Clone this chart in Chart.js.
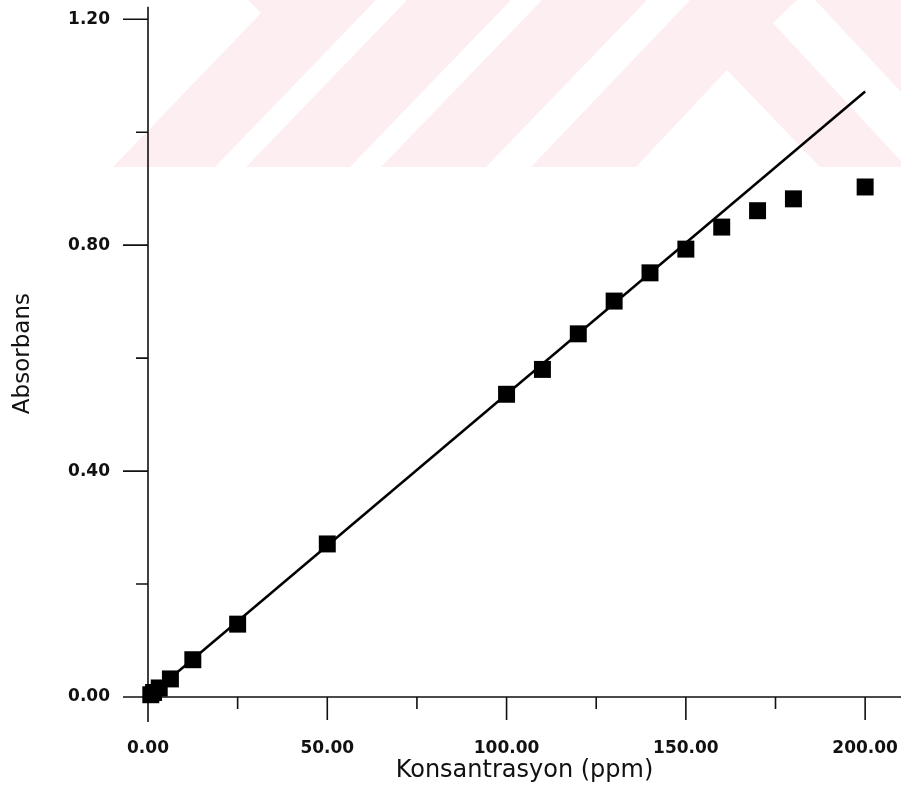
<!DOCTYPE html>
<html>
<head>
<meta charset="utf-8">
<script src="https://cdn.jsdelivr.net/npm/chart.js@4.4.1/dist/chart.umd.min.js"></script>
<style>
  html, body { margin: 0; padding: 0; background: #fff; }
  canvas { display: block; }
</style>
</head>
<body>
<canvas id="calibChart" width="901" height="787"></canvas>
<script>
// measured points (concentration in ppm, absorbance)
const concentration = [0.78, 1.56, 3.13, 6.25, 12.5, 25, 50, 100, 110, 120, 130, 140, 150, 160, 170, 180, 200];
const absorbance = [0.004, 0.008, 0.016, 0.032, 0.066, 0.129, 0.271, 0.536, 0.580, 0.643, 0.701, 0.751, 0.793, 0.832, 0.861, 0.882, 0.903];

// linear fit line
const fitX = [0, 200];
const fitY = [0, 1.072];

const xTicks = [0, 50, 100, 150, 200];
const xMinorTicks = [25, 75, 125, 175];
const yTicks = [0, 0.4, 0.8, 1.2];
const yMinorTicks = [0.2, 0.6, 1.0];
const yAxisTop = 1.222;

// faint pink watermark stripes in the background (page decoration)
const watermark = [
  [[248, 0], [376, 0], [215, 167], [113, 167], [261, 13]],
  [[407, 0], [511, 0], [350, 167], [246, 167]],
  [[542, 0], [647, 0], [486, 167], [381, 167]],
  [[690, 0], [797, 0], [773, 23], [901, 161], [901, 167], [820, 167], [727, 70], [636, 167], [531, 167]],
  [[815, 0], [901, 0], [901, 92]]
];

Chart.defaults.font.family = "'DejaVu Sans', Verdana, sans-serif";
Chart.defaults.color = "#111";

const watermarkPlugin = {
  id: "watermark",
  beforeDraw(chart) {
    const ctx = chart.ctx;
    ctx.save();
    ctx.fillStyle = "rgb(253,238,241)";
    watermark.forEach(poly => {
      ctx.beginPath();
      poly.forEach(([px, py], i) => (i ? ctx.lineTo(px, py) : ctx.moveTo(px, py)));
      ctx.closePath();
      ctx.fill();
    });
    ctx.restore();
  }
};

// axes cross at the origin, with long major and short minor ticks
const crossAxesPlugin = {
  id: "crossAxes",
  beforeDatasetsDraw(chart) {
    const { ctx, chartArea, scales: { x, y } } = chart;
    const x0 = x.getPixelForValue(0);
    const y0 = y.getPixelForValue(0);
    ctx.save();
    ctx.strokeStyle = "#111";
    ctx.lineWidth = 1.6;
    ctx.beginPath();
    ctx.moveTo(x0 - 25, y0);
    ctx.lineTo(chartArea.right, y0);
    ctx.moveTo(x0, y.getPixelForValue(yAxisTop));
    ctx.lineTo(x0, y0 + 25);
    xTicks.forEach(v => {
      const px = x.getPixelForValue(v);
      ctx.moveTo(px, y0);
      ctx.lineTo(px, y0 + 23);
    });
    xMinorTicks.forEach(v => {
      const px = x.getPixelForValue(v);
      ctx.moveTo(px, y0);
      ctx.lineTo(px, y0 + 12);
    });
    yTicks.forEach(v => {
      const py = y.getPixelForValue(v);
      ctx.moveTo(x0 - 25, py);
      ctx.lineTo(x0, py);
    });
    yMinorTicks.forEach(v => {
      const py = y.getPixelForValue(v);
      ctx.moveTo(x0 - 12, py);
      ctx.lineTo(x0, py);
    });
    ctx.stroke();
    ctx.restore();
  }
};

new Chart(document.getElementById("calibChart"), {
  type: "scatter",
  data: {
    datasets: [
      {
        label: "Absorbans",
        data: concentration.map((c, i) => ({ x: c, y: absorbance[i] })),
        pointStyle: "rect",
        pointRadius: 12,
        pointHoverRadius: 12,
        backgroundColor: "#000",
        borderWidth: 0,
        clip: false,
        order: 0
      },
      {
        label: "Fit",
        data: fitX.map((c, i) => ({ x: c, y: fitY[i] })),
        showLine: true,
        pointRadius: 0,
        borderColor: "#000",
        borderWidth: 2.5,
        clip: false,
        order: 1
      }
    ]
  },
  options: {
    responsive: false,
    animation: false,
    layout: { autoPadding: false, padding: 0 },
    plugins: { legend: { display: false }, tooltip: { enabled: false } },
    scales: {
      x: {
        type: "linear",
        min: 0,
        max: 210,
        grid: { display: false, drawTicks: true, tickLength: 41 },
        border: { display: false },
        afterBuildTicks: scale => { scale.ticks = xTicks.map(v => ({ value: v })); },
        afterFit: scale => { scale.height = 90; },
        ticks: {
          padding: 0,
          maxRotation: 0,
          font: { size: 17, weight: "bold" },
          callback: v => Number(v).toFixed(2)
        },
        title: {
          display: true,
          text: "Konsantrasyon (ppm)",
          font: { size: 24 },
          padding: { top: 0, bottom: 2 }
        }
      },
      y: {
        type: "linear",
        min: 0,
        max: 1.216,
        grid: { display: false, drawTicks: true, tickLength: 38 },
        border: { display: false },
        afterBuildTicks: scale => { scale.ticks = yTicks.map(v => ({ value: v })); },
        afterFit: scale => { scale.width = 148; },
        ticks: {
          padding: 0,
          font: { size: 17, weight: "bold" },
          callback: v => Number(v).toFixed(2)
        },
        title: {
          display: true,
          text: "Absorbans",
          font: { size: 23 },
          padding: { top: 9, bottom: 0 }
        }
      }
    }
  },
  plugins: [watermarkPlugin, crossAxesPlugin]
});
</script>
</body>
</html>
